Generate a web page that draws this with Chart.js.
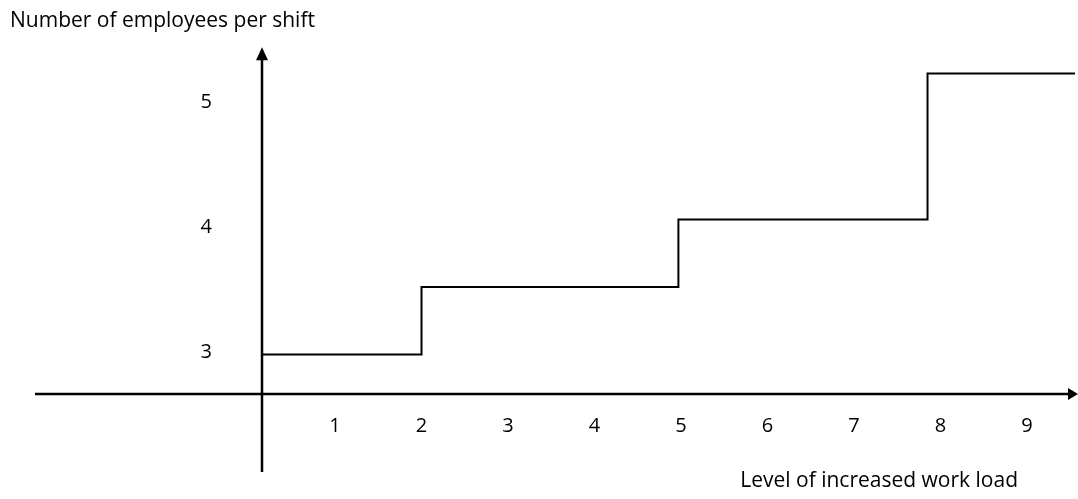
<!DOCTYPE html>
<html>
<head>
<meta charset="utf-8">
<script src="https://cdn.jsdelivr.net/npm/chart.js@4/dist/chart.umd.min.js"></script>
<style>
  body { margin: 0; background: #fff; }
  #wrap { width: 1078px; height: 499px; position: relative; }
</style>
</head>
<body>
<div id="wrap"><canvas id="stepChart"></canvas></div>
<script>
// 数据
const workLoad = [0.16, 2, 4.97, 7.85, 9.56];        // 工作量等级 (阶跃点)
const employees = [2.98, 3.52, 4.06, 5.23, 5.23];    // 每班员工人数
const xTicks = [1, 2, 3, 4, 5, 6, 7, 8, 9];
const yTicks = [3, 4, 5];
const yTitle = 'Number of employees per shift';
const xTitle = 'Level of increased work load';

const FONT = '"Open Sans", sans-serif';

// 坐标轴箭头和标题
const axisArrows = {
    id: 'axisArrows',
    afterDraw(chart) {
        const ctx = chart.ctx;
        const area = chart.chartArea;
        const ox = area.left;
        const oy = area.bottom;
        ctx.save();
        ctx.strokeStyle = '#000';
        ctx.fillStyle = '#000';
        ctx.lineWidth = 2.5;

        // 纵轴
        ctx.beginPath();
        ctx.moveTo(ox, area.top + 10);
        ctx.lineTo(ox, oy + 78);
        ctx.stroke();
        ctx.beginPath();
        ctx.moveTo(ox, area.top);
        ctx.lineTo(ox - 6, area.top + 13);
        ctx.lineTo(ox + 6, area.top + 13);
        ctx.closePath();
        ctx.fill();

        // 横轴
        ctx.beginPath();
        ctx.moveTo(35, oy);
        ctx.lineTo(chart.width - 6, oy);
        ctx.stroke();
        ctx.beginPath();
        ctx.moveTo(chart.width, oy);
        ctx.lineTo(chart.width - 10, oy - 6);
        ctx.lineTo(chart.width - 10, oy + 6);
        ctx.closePath();
        ctx.fill();

        // 横轴标题
        ctx.font = '21px ' + FONT;
        ctx.textAlign = 'right';
        ctx.textBaseline = 'middle';
        ctx.fillText(xTitle, 1018, 481);
        ctx.restore();
    }
};

// 去掉刻度标签带来的额外边距
function noLabelPadding(scale) {
    scale.paddingTop = 0;
    scale.paddingBottom = 0;
    scale.paddingLeft = 0;
    scale.paddingRight = 0;
}

const ctx = document.getElementById('stepChart').getContext('2d');
new Chart(ctx, {
    type: 'line',
    data: {
        datasets: [{
            data: workLoad.map((v, i) => ({ x: v, y: employees[i] })),
            borderColor: '#000',
            borderWidth: 2,
            pointRadius: 0,
            stepped: 'before',
            fill: false
        }]
    },
    options: {
        responsive: true,
        maintainAspectRatio: false,
        animation: false,
        layout: { padding: { left: 10, right: 3, top: 0, bottom: 0 } },
        plugins: {
            legend: { display: false },
            tooltip: { enabled: false },
            title: {
                display: true,
                text: yTitle,
                align: 'start',
                color: '#000',
                font: { family: FONT, size: 21, weight: 'normal' },
                padding: { top: 8, bottom: 14 }
            }
        },
        scales: {
            x: {
                type: 'linear',
                min: 0.156,
                max: 9.555,
                grid: { display: false, drawTicks: false },
                border: { display: false },
                afterBuildTicks: scale => { scale.ticks = xTicks.map(v => ({ value: v })); },
                afterFit: scale => { scale.height = 105; noLabelPadding(scale); },
                ticks: {
                    color: '#000',
                    padding: 20,
                    maxRotation: 0,
                    font: { family: FONT, size: 20 }
                }
            },
            y: {
                type: 'linear',
                min: 2.664,
                max: 5.44,
                grid: { display: false, drawTicks: false },
                border: { display: false },
                afterBuildTicks: scale => { scale.ticks = yTicks.map(v => ({ value: v })); },
                afterFit: scale => { scale.width = 252; noLabelPadding(scale); },
                ticks: {
                    color: '#000',
                    padding: 50,
                    font: { family: FONT, size: 20 }
                }
            }
        }
    },
    plugins: [axisArrows]
});
</script>
</body>
</html>
